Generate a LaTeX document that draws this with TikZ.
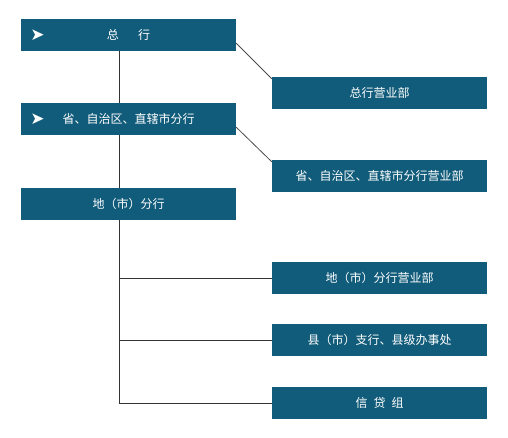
\documentclass[tikz,border=0pt]{standalone}
\usepackage{fontspec}
\setmainfont{Noto Sans CJK SC}
\newfontfamily\symfont{DejaVu Sans}
\usepackage{tikz}
\definecolor{boxblue}{HTML}{115C7A}

\begin{document}
\begin{tikzpicture}[x=1pt,y=-1pt,
        bank/.style={fill=boxblue, text=white, minimum width=215pt, minimum height=32pt,
                     inner sep=0pt, font=\fontsize{12pt}{14pt}\selectfont},
        marker/.style={text=white, inner sep=0pt, font=\symfont\fontsize{17pt}{18pt}\selectfont},
        link/.style={draw=black!80, line width=0.8pt}]
            \useasboundingbox (0,0) rectangle (508,438);
            \coordinate (trunk) at (119,0);
            % left column
            \node[bank] (zh) at (128.5,35) {总\hspace{1.6em}行\hspace{1.3em}};
            \node[bank] (sh) at (128.5,119) {省、自治区、直辖市分行};
            \node[bank] (ds) at (128.5,204) {地（市）分行};
            \node[marker] (m1) at (37.5,35) {➤};
            \node[marker] (m2) at (37.5,119) {➤};
            % right column
            \node[bank] (zyb) at (379.5,93) {总行营业部};
            \node[bank] (syb) at (379.5,176) {省、自治区、直辖市分行营业部};
            \node[bank] (dyb) at (379.5,278) {地（市）分行营业部};
            \node[bank] (xz) at (379.5,340) {县（市）支行、县级办事处};
            \node[bank] (xd) at (379.5,403) {信\hspace{0.5em}贷\hspace{0.5em}组};
            % connectors
            \draw[link] (zh.south -| trunk) -- (sh.north -| trunk);
            \draw[link] (sh.south -| trunk) -- (ds.north -| trunk);
            \draw[link] (ds.south -| trunk) -- (trunk |- xd.west);
            \draw[link] (trunk |- dyb.west) -- (dyb.west);
            \draw[link] (trunk |- xz.west) -- (xz.west);
            \draw[link] (trunk |- xd.west) -- (xd.west);
            \draw[link, draw=black!70] ([yshift=8pt]zh.south east) -- ([yshift=-2pt]zyb.north west);
            \draw[link, draw=black!70] ([yshift=8pt]sh.south east) -- ([yshift=-2pt]syb.north west);
        \end{tikzpicture}
\end{document}
